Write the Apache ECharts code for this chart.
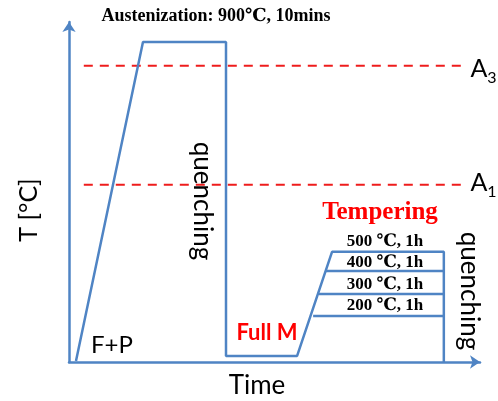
<!DOCTYPE html>
<html>
<head>
    <meta charset="utf-8">
    <title>Heat treatment</title>
    <script src="https://cdn.jsdelivr.net/npm/echarts@6/dist/echarts.min.js"></script>
</head>
<body style="margin:0">
    <div id="main" style="width: 498px;height:401px;"></div>
    <script type="text/javascript">
        // schematic units: time 0-100, temperature level 0-100 (not to scale)
        var processTime = [1.7, 18.0, 38.2, 38.2, 55.5, 64.0, 91.2, 91.2];
        var processTemp = [0.3, 94.1, 94.1, 1.8, 1.8, 32.4, 32.4, 0];

        // tempering holds below 500 (start on the ramp, end at the quench)
        var holdNames = ['400', '300', '200'];
        var holdStart = [62.5, 60.8, 59.4];
        var holdTemp = [26.8, 20.0, 13.5];
        var holdEnd = 91.2;

        var critNames = ['A3', 'A1'];
        var critTemp = [87.1, 52.1];
        var critRange = [3.6, 95.9];

        var blue = '#4f84c4';
        var red = '#ff0000';
        var sans = 'Lato, "Open Sans", sans-serif';
        var serif = '"Liberation Serif", "DejaVu Serif", serif';

        var myChart = echarts.init(document.getElementById('main'));

        var series = [{
            name: 'process',
            type: 'line',
            data: processTime.map(function (t, i) { return [t, processTemp[i]]; }),
            showSymbol: false,
            lineStyle: { color: blue, width: 2.5 },
            z: 3
        }];
        holdNames.forEach(function (n, i) {
            series.push({
                name: n,
                type: 'line',
                data: [[holdStart[i], holdTemp[i]], [holdEnd, holdTemp[i]]],
                showSymbol: false,
                lineStyle: { color: blue, width: 2.5 },
                z: 3
            });
        });
        critNames.forEach(function (n, i) {
            series.push({
                name: n,
                type: 'line',
                data: [[critRange[0], critTemp[i]], [critRange[1], critTemp[i]]],
                showSymbol: false,
                lineStyle: { color: '#ee1c1c', width: 2, type: [9, 7] },
                z: 2
            });
        });

        function txt(x, y, s, font, color, rot) {
            var style = { x: 0, y: 0, text: s, font: font, fill: color || '#000',
                          align: 'center', verticalAlign: 'middle' };
            return { type: 'text', x: x, y: y, rotation: rot || 0, style: style, z: 10 };
        }

        var option = {
            animation: false,
            grid: { left: 69, right: 18, top: 22, bottom: 39 },
            xAxis: {
                type: 'value', min: 0, max: 100,
                axisLine: { lineStyle: { color: blue, width: 2.5 }, symbol: ['none', 'arrow'], symbolSize: [10, 10] },
                axisTick: { show: false }, axisLabel: { show: false }, splitLine: { show: false }
            },
            yAxis: {
                type: 'value', min: 0, max: 100,
                axisLine: { lineStyle: { color: blue, width: 2.5 }, symbol: ['none', 'arrow'], symbolSize: [10, 10] },
                axisTick: { show: false }, axisLabel: { show: false }, splitLine: { show: false }
            },
            series: series,
            graphic: [
                txt(216, 16, 'Austenization: 900\u2103, 10mins', 'bold 18px ' + serif),
                txt(29, 210, 'T [\u00b0C]', '25px ' + sans, '#000', Math.PI / 2),
                txt(257, 386, 'Time', '26px ' + sans),
                txt(202, 201, 'quenching', '26px ' + sans, '#000', -Math.PI / 2),
                txt(469, 291, 'quenching', '26px ' + sans, '#000', -Math.PI / 2),
                txt(112, 345, 'F+P', '24px ' + sans),
                txt(267, 333, 'Full M', 'bold 22px ' + sans, red),
                txt(380, 213, 'Tempering', 'bold 25px ' + serif, red),
                txt(385, 242, '500 \u2103, 1h', 'bold 17px ' + serif),
                txt(385, 263, '400 \u2103, 1h', 'bold 17px ' + serif),
                txt(385, 285, '300 \u2103, 1h', 'bold 17px ' + serif),
                txt(385, 306, '200 \u2103, 1h', 'bold 17px ' + serif),
                txt(479, 69, 'A', '25px ' + sans),
                txt(492, 78, '3', '16px ' + sans),
                txt(479, 183, 'A', '25px ' + sans),
                txt(492, 192, '1', '16px ' + sans)
            ]
        };

        myChart.setOption(option);
    </script>
</body>
</html>
